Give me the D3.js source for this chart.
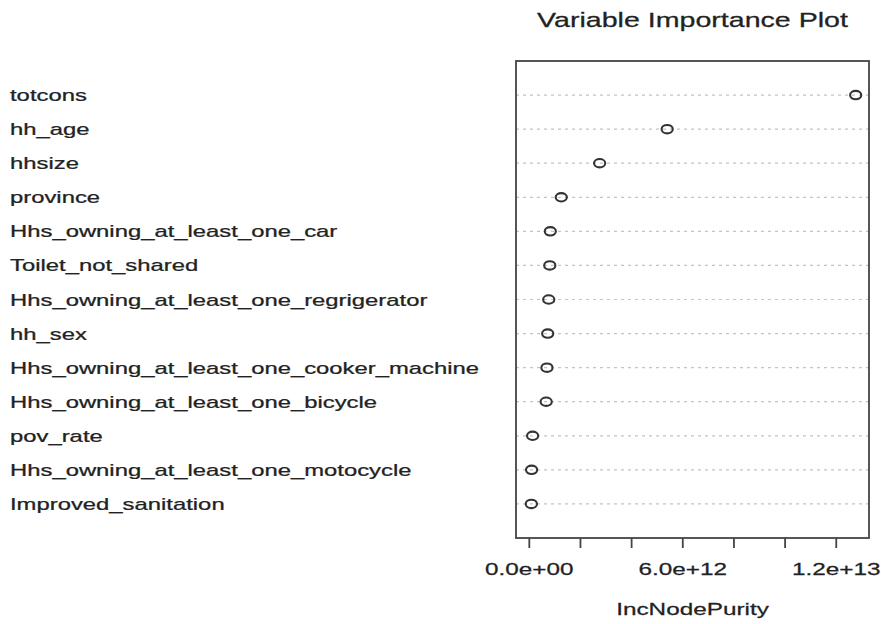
<!DOCTYPE html>
<html>
<head>
<meta charset="utf-8">
<script src="https://cdn.jsdelivr.net/npm/d3@7"></script>
<style>
  body { margin: 0; background: #fff; }
  text { font-family: "Liberation Sans", Arial, sans-serif; fill: #222; stroke: #222; stroke-width: 0.25px; }
</style>
</head>
<body>
<svg width="881" height="624"></svg>
<script>
// variables, top to bottom as in the plot
var variables = [
    "totcons", "hh_age", "hhsize", "province",
    "Hhs_owning_at_least_one_car", "Toilet_not_shared",
    "Hhs_owning_at_least_one_regrigerator", "hh_sex",
    "Hhs_owning_at_least_one_cooker_machine",
    "Hhs_owning_at_least_one_bicycle", "pov_rate",
    "Hhs_owning_at_least_one_motocycle", "Improved_sanitation"
];
// IncNodePurity values
var purity = [
    12.76e12, 5.39e12, 2.75e12, 1.25e12,
    0.82e12, 0.80e12, 0.76e12, 0.72e12,
    0.69e12, 0.66e12, 0.13e12, 0.09e12, 0.08e12
];
var xTicks = [0, 2e12, 4e12, 6e12, 8e12, 1e13, 1.2e13];
var xTickLabels = ["0.0e+00", "", "", "6.0e+12", "", "", "1.2e+13"];
var xDomain = [-0.52e12, 13.28e12];

var svg = d3.select("svg");
var box = {left: 516, right: 869, top: 61, bottom: 538};
var sx = 1.43; // the picture is stretched sideways

var x = d3.scaleLinear().domain(xDomain).range([box.left, box.right]);
var y = d3.scaleLinear().domain([0, variables.length + 1]).range([box.top, box.bottom]);

var rows = variables.map(function (v, i) {
    return {name: v, value: purity[i], pos: i + 1};
});

// dotted guide lines
svg.append("g").selectAll("line")
    .data(rows)
    .enter().append("line")
    .attr("x1", box.left).attr("x2", box.right)
    .attr("y1", d => y(d.pos)).attr("y2", d => y(d.pos))
    .attr("stroke", "#c4c4c4")
    .attr("stroke-width", 1.2)
    .attr("stroke-dasharray", "3,4");

// points
svg.append("g").selectAll("ellipse")
    .data(rows)
    .enter().append("ellipse")
    .attr("cx", d => x(d.value))
    .attr("cy", d => y(d.pos))
    .attr("rx", 5.6).attr("ry", 4.2)
    .attr("fill", "none")
    .attr("stroke", "#333")
    .attr("stroke-width", 2.1);

// labels on the left
svg.append("g").selectAll("text")
    .data(rows)
    .enter().append("text")
    .attr("transform", d => `translate(10,${y(d.pos) + 6}) scale(1.49,1)`)
    .style("font-size", "16px")
    .text(d => d.name);

// box
svg.append("rect")
    .attr("x", box.left).attr("y", box.top)
    .attr("width", box.right - box.left)
    .attr("height", box.bottom - box.top)
    .attr("fill", "none")
    .attr("stroke", "#444")
    .attr("stroke-width", 1.8);

// x axis
var axis = svg.append("g").attr("transform", `translate(0,${box.bottom})`);
axis.selectAll("line")
    .data(xTicks)
    .enter().append("line")
    .attr("x1", d => x(d)).attr("x2", d => x(d))
    .attr("y1", 0).attr("y2", 10)
    .attr("stroke", "#444")
    .attr("stroke-width", 1.8);

axis.selectAll("text")
    .data(xTicks)
    .enter().append("text")
    .attr("transform", d => `translate(${x(d)},37) scale(${sx},1)`)
    .attr("text-anchor", "middle")
    .style("font-size", "17px")
    .text((d, i) => xTickLabels[i]);

svg.append("text")
    .attr("transform", `translate(${(box.left + box.right) / 2},615) scale(${sx},1)`)
    .attr("text-anchor", "middle")
    .style("font-size", "17px")
    .text("IncNodePurity");

svg.append("text")
    .attr("transform", `translate(${(box.left + box.right) / 2},27) scale(${sx},1)`)
    .attr("text-anchor", "middle")
    .style("font-size", "20px")
    .text("Variable Importance Plot");
</script>
</body>
</html>
